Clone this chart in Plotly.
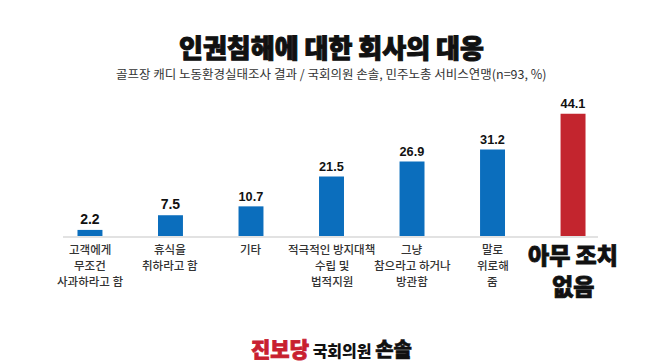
import plotly.graph_objects as go

categories = ["고객에게<br>무조건<br>사과하라고 함", "휴식을<br>취하라고 함", "기타",
              "적극적인 방지대책<br>수립 및<br>법적지원", "그냥<br>참으라고 하거나<br>방관함",
              "말로<br>위로해<br>줌", "아무 조치<br>없음"]
values = [2.2, 7.5, 10.7, 21.5, 26.9, 31.2, 44.1]
highlight = [False, False, False, False, False, False, True]

title_text = "인권침해에 대한 회사의 대응"
subtitle_text = "골프장 캐디 노동환경실태조사 결과 / 국회의원 손솔, 민주노총 서비스연맹(n=93, %)"

BLUE = "#0B6EBD"
RED = "#C3252E"
FONT = "Noto Sans CJK KR"
HEAVY = "Noto Sans CJK KR Black, Noto Sans CJK KR"

PLOT_H = 138          # plot area height in px
BASE = 228            # baseline pixel row
def py(pixel_y):
    return (BASE - pixel_y) / PLOT_H

def heavy(s, color="#111", w=0.9):
    return f"<span style='stroke:{color};stroke-width:{w}px'>{s}</span>"

xs = list(range(len(categories)))
colors = [RED if h else BLUE for h in highlight]

fig = go.Figure()
fig.add_trace(go.Bar(
    x=xs, y=values, width=0.31, marker=dict(color=colors, line=dict(width=0)),
    text=[f"{v:.1f}" for v in values], textposition="outside",
    textfont=dict(family="Liberation Sans, Arial", size=14, color="#111"),
    texttemplate="<b>%{text}</b>", cliponaxis=False, hoverinfo="skip",
))

annotations = []
for x, c, h in zip(xs, categories, highlight):
    lines = c.split("<br>")
    for i, line in enumerate(lines):
        if h:
            annotations.append(dict(x=x, y=0, xref="x", yref="y", text=heavy(line, w=0.8),
                                    showarrow=False, yanchor="middle", yshift=-18 - 31 * i,
                                    font=dict(family=HEAVY, size=23, color="#111", weight=900)))
        else:
            annotations.append(dict(x=x, y=0, xref="x", yref="y", text=line,
                                    showarrow=False, yanchor="middle", yshift=-13 - 16 * i,
                                    font=dict(family=FONT, size=11.5, color="#333", weight=500)))

annotations.append(dict(x=0.501, y=py(38), xref="paper", yref="paper",
                        text=heavy(title_text, w=1.0), showarrow=False, yanchor="middle",
                        font=dict(family=HEAVY, size=26, color="#111", weight=900)))
annotations.append(dict(x=0.501, y=py(65), xref="paper", yref="paper",
                        text=subtitle_text, showarrow=False, yanchor="middle",
                        font=dict(family=FONT, size=12.5, color="#333")))
annotations.append(dict(x=0.501, y=py(340), xref="paper", yref="paper",
                        text="<span style='color:#C8202F;fill:#C8202F;stroke:#C8202F;stroke-width:0.8px;font-size:21px;font-weight:900'>진보당</span>"
                             "<span style='font-size:16px;font-weight:400'> 국회의원 </span>"
                             "<span style='stroke:#111;stroke-width:0.6px;font-size:20px;font-weight:900'>손솔</span>",
                        showarrow=False, yanchor="middle",
                        font=dict(family=HEAVY, size=16, color="#111")))

fig.update_layout(
    width=647, height=364,
    margin=dict(l=55, r=57, t=BASE - PLOT_H, b=364 - BASE),
    paper_bgcolor="white", plot_bgcolor="white",
    showlegend=False,
    xaxis=dict(range=[-0.335, 6.31], showticklabels=False, ticks="", showgrid=False,
               zeroline=False, showline=True, linecolor="#E2E2E2", linewidth=1.5, fixedrange=True),
    yaxis=dict(range=[0, PLOT_H / 2.77], visible=False, showgrid=False, zeroline=False, fixedrange=True),
    annotations=annotations,
    font=dict(family=FONT),
)

fig.write_html("out.html")
